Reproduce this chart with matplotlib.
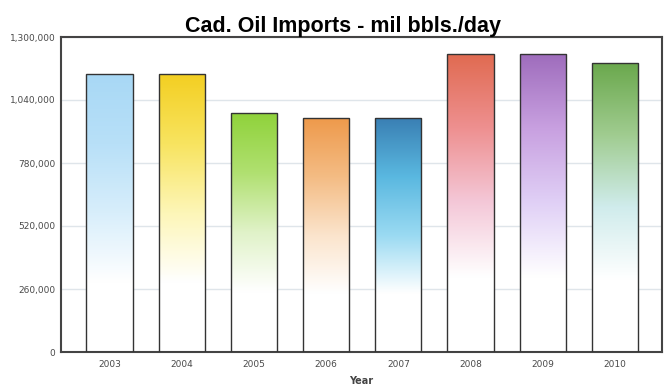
import matplotlib
matplotlib.use('Agg')
from matplotlib import pyplot as plt
from matplotlib.colors import LinearSegmentedColormap
import numpy as np

# data
years = ['2003', '2004', '2005', '2006', '2007', '2008', '2009', '2010']
imports = [1146000, 1146000, 987000, 964000, 964000, 1230000, 1230000, 1193000]
yticks = [0, 260000, 520000, 780000, 1040000, 1300000]

# gradient colours for each bar, from bottom to top
grads = [
    ['#ffffff', '#ffffff', '#d8eefb', '#b8e0f8', '#a8d8f5'],
    ['#ffffff', '#ffffff', '#fdf6b8', '#f8e460', '#f3cf22'],
    ['#ffffff', '#ffffff', '#e0f2c8', '#b0e070', '#8fd23a'],
    ['#ffffff', '#ffffff', '#fbe4cc', '#f4bc84', '#ee9a4c'],
    ['#ffffff', '#ffffff', '#9adaf2', '#5ab8e0', '#3a80b4'],
    ['#ffffff', '#ffffff', '#f4c8d8', '#ee9090', '#e06a50'],
    ['#ffffff', '#ffffff', '#e0d0f6', '#c8a0e0', '#9e6cbc'],
    ['#ffffff', '#ffffff', '#d0ecec', '#a0cc90', '#6aa84c'],
]

plt.rcParams['font.family'] = ['DejaVu Sans']
fig = plt.figure(figsize=(6.69, 3.90), dpi=100)
ax = fig.add_axes([61/669, 38/390, 601/669, 315/390])

x = np.arange(len(years))
bars = ax.bar(x, imports, width=0.64, color='none', edgecolor='#333333', linewidth=1, zorder=3)

# gradient fill clipped to each bar
grad = np.linspace(0, 1, 256).reshape(-1, 1)
for b, cols in zip(bars, grads):
    cmap = LinearSegmentedColormap.from_list('g', cols)
    bx, by = b.get_x(), b.get_y()
    im = ax.imshow(grad, cmap=cmap, aspect='auto', origin='lower',
                   extent=[bx, bx + b.get_width(), by, by + b.get_height()], zorder=2)
    im.set_clip_path(b)

ax.set_xlim(-0.67, 7.65)
ax.set_ylim(0, 1300000)
ax.set_xticks(x)
ax.set_xticklabels(years)
ax.set_yticks(yticks)
ax.set_yticklabels(['{:,}'.format(v) for v in yticks])
ax.tick_params(length=0, labelsize=6.5, labelcolor='#4a4a4a')
ax.tick_params(axis='y', pad=4)
ax.tick_params(axis='x', pad=6)
ax.grid(axis='y', color='#dfe5ea', linewidth=1, zorder=0)
ax.set_axisbelow(True)
for s in ax.spines.values():
    s.set_color('#444444')
    s.set_linewidth(1.5)

ax.set_xlabel('Year', fontsize=7, fontweight='bold', color='#444444', labelpad=5)
fig.text(0.512, 1 - 32/390, 'Cad. Oil Imports - mil bbls./day', ha='center', va='baseline',
         fontsize=15.5, fontweight='bold', family='Liberation Sans')

plt.savefig('out.png', dpi=100)
